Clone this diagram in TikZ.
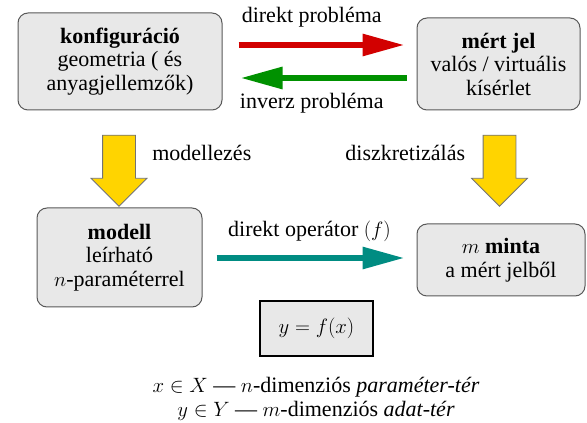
\documentclass[tikz,border=0pt]{standalone}
\usepackage{fontspec}
\setmainfont{LiberationSerif}[Extension=.ttf,UprightFont=*-Regular,BoldFont=*-Bold,ItalicFont=*-Italic,BoldItalicFont=*-BoldItalic]
\usepackage{amsmath}
\usepackage{tikz}
\usetikzlibrary{arrows.meta}
\usetikzlibrary{positioning}
\usetikzlibrary{shapes.arrows}

\definecolor{arrowred}{RGB}{210,0,0}
\definecolor{arrowgreen}{RGB}{0,145,0}
\definecolor{arrowteal}{RGB}{0,140,130}
\definecolor{arrowyellow}{RGB}{255,212,0}
\definecolor{boxgray}{RGB}{232,232,232}

\begin{document}
\begin{tikzpicture}[x=1pt,y=1pt,font=\fontsize{22}{23.5}\selectfont]
 \tikzstyle{box node}=[rectangle,rounded corners=10pt,draw=black!65,fill=boxgray,line width=1pt,align=center,inner sep=2pt]
 \tikzstyle{eq node}=[rectangle,draw=black,fill=boxgray,line width=1.3pt,inner sep=2pt]
 \tikzstyle{down node}=[single arrow,draw=black!55,fill=arrowyellow,line width=0.8pt,inner sep=16pt,
   minimum height=71pt,single arrow head extend=11.5pt,shape border rotate=270]
 \tikzset{
 	thick arrow/.style={line width=6pt,-{Triangle[length=42pt,width=21pt]}},
 	red arrow/.style={thick arrow,draw=arrowred,shorten <=16pt,shorten >=12pt},
 	green arrow/.style={thick arrow,draw=arrowgreen,shorten <=10pt,shorten >=18pt},
 	teal arrow/.style={thick arrow,draw=arrowteal,shorten <=14pt,shorten >=12pt}
 }
 \useasboundingbox (0,0) rectangle (587,423);

       \node[box node,minimum width=204pt,minimum height=97pt] (konf) at (120,361.5)
         {\textbf{konfiguráció}\\geometria ( és\\anyagjellemzők)};
       \node[box node,minimum width=163pt,minimum height=92pt] (mert) at (498.5,359)
         {\textbf{mért jel}\\valós / virtuális\\kísérlet};
       \node[box node,minimum width=165pt,minimum height=99pt] (modell) at (119.5,165.5)
         {\textbf{modell}\\leírható\\$n$-paraméterrel};
       \node[box node,minimum width=168pt,minimum height=72pt] (minta) at (501,163)
         {$m$ \textbf{minta}\\a mért jelből};
       \node[eq node,minimum width=113pt,minimum height=55pt] (yfx) at (316.5,94.5) {$y=f(x)$};

       \node[down node] (down1) at (119,260.5) {};
       \node[down node] (down2) at (499.5,260.5) {};
       \node (modlabel) [right=13pt of down1,yshift=10pt] {modellezés};
       \node (disklabel) [left=14pt of down2,yshift=10pt] {diszkretizálás};

     \draw[red arrow]  ([yshift=16.5pt]konf.east) -- node[pos=0.46,above=11pt] {direkt probléma} ([yshift=16.5pt]konf.east -| mert.west);
     \draw[green arrow]  ([yshift=-16.5pt]konf.east -| mert.west) -- node[pos=0.54,below=9pt] {inverz probléma} ([yshift=-16.5pt]konf.east);
     \draw[teal arrow]  ([yshift=-0.5pt]modell.east) -- node[pos=0.5,above=10pt] {direkt operátor $(f)$} ([yshift=-0.5pt]modell.east -| minta.west);

       \node[align=center,font=\fontsize{22}{24}\selectfont] (spaces) at (316,24)
         {$x\in X$ --- $n$-dimenziós \textit{paraméter-tér}\\
          $y\in Y$ --- $m$-dimenziós \textit{adat-tér}};
 \end{tikzpicture}
\end{document}
